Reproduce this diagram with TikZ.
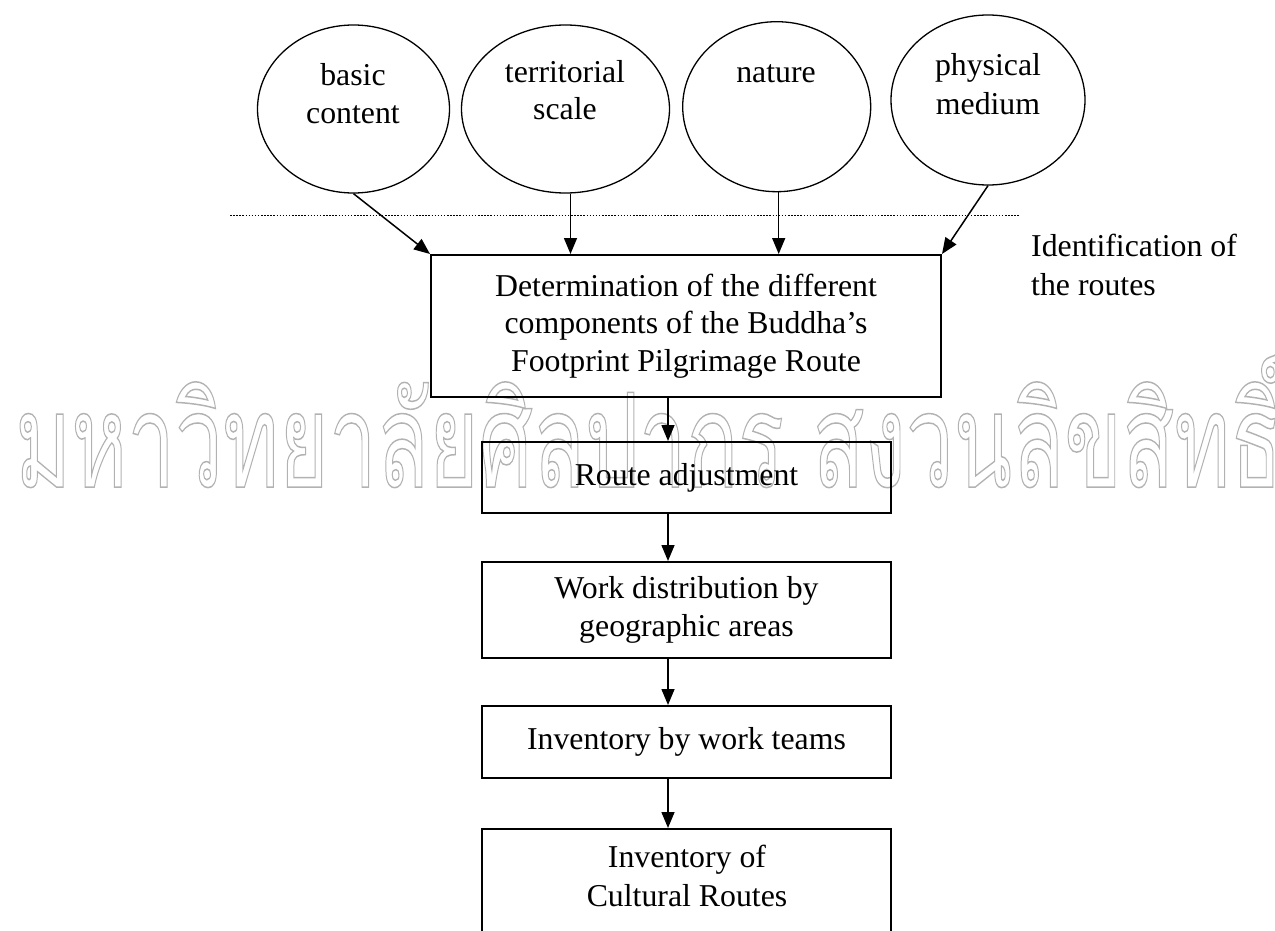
\documentclass[tikz,border=0pt]{standalone}
\usepackage{fontspec}
\setmainfont{Liberation Serif}
\newfontfamily\thaifont[Script=Thai]{Loma}
\usetikzlibrary{shapes.geometric,arrows.meta}
\definecolor{wmgray}{gray}{0.7}
\newbox\wmbox
\begin{document}
\setbox\wmbox\hbox{\thaifont\fontsize{131}{131}\selectfont มหาวิทยาลัยศิลปากร สงวนลิขสิทธิ์}
\pgfmathsetmacro\wmsx{1267/\the\wd\wmbox}
\begin{tikzpicture}[x=1pt,y=-1pt,
  every node/.style={font=\fontsize{31.8}{37.5}\selectfont},
  oval/.style={draw, ellipse, line width=1.3pt, inner sep=0pt},
  stepbox/.style={draw, rectangle, line width=2pt, align=center, inner sep=0pt},
  arr/.style={line width=1.5pt, -{Triangle[length=16pt,width=13pt]}},
  lbl/.style={anchor=base, inner sep=0pt},
  wmark/.style={anchor=base west, inner sep=0pt},
  dotline/.style={line width=1.5pt, dash pattern=on 1.5pt off 1.6pt}]
\useasboundingbox (0,0) rectangle (1275,931);
% watermark (outlined text)
\node[wmark, text=wmgray] (wm) at (15,487)
  {\scalebox{\wmsx}[1]{\color{wmgray}\special{pdf:literal direct 1 Tr 1.5 w}\copy\wmbox\special{pdf:literal direct 0 Tr}}};
% ellipses
\node[oval, minimum width=192pt, minimum height=168pt] (e1) at (353.5,109) {};
\node[oval, minimum width=208pt, minimum height=168pt] (e2) at (565.5,109) {};
\node[oval, minimum width=188pt, minimum height=170pt] (e3) at (776.7,106.7) {};
\node[oval, minimum width=194pt, minimum height=170pt] (e4) at (988,100) {};
\node[lbl] (t1a) at (353,86) {basic};
\node[lbl] (t1b) at (353,124) {content};
\node[lbl] (t2a) at (565,83) {territorial};
\node[lbl] (t2b) at (565,120) {scale};
\node[lbl] (t3a) at (776,83) {nature};
\node[lbl] (t4a) at (988,76) {physical};
\node[lbl] (t4b) at (988,115) {medium};
% dotted line
\coordinate (d1) at (230,215.5);
\coordinate (d2) at (1020,215.5);
\draw[dotline] (d1) -- (d2);
\node[lbl, anchor=base west] (id1) at (1031,256) {Identification of};
\node[lbl, anchor=base west] (id2) at (1031,295) {the routes};
% boxes
\node[stepbox, minimum width=510pt, minimum height=142pt] (b1) at (686,326)
  {Determination of the different\\components of the Buddha’s\\Footprint Pilgrimage Route};
\node[stepbox, minimum width=409pt, minimum height=71pt] (b2) at (686.5,477.5) {Route adjustment};
\node[stepbox, minimum width=409pt, minimum height=96pt] (b3) at (686.5,610) {Work distribution by\\geographic areas};
\node[stepbox, minimum width=409pt, minimum height=72pt] (b4) at (686.5,742) {Inventory by work teams};
\node[stepbox, minimum width=409pt, minimum height=130pt, anchor=north] (b5) at (686.5,828) {};
\node[lbl] (t5a) at (687,867) {Inventory of};
\node[lbl] (t5b) at (687,906) {Cultural Routes};
% arrows
\draw[arr] (e1.south) -- (b1.north west);
\draw[arr] ([xshift=5pt]e2.south) -- ([xshift=5pt]e2.south |- b1.north);
\draw[arr] ([xshift=2pt]e3.south) -- ([xshift=2pt]e3.south |- b1.north);
\draw[arr] (e4.south) -- (b1.north east);
\coordinate (ax) at (668,0);
\draw[arr] (b1.south -| ax) -- (b2.north -| ax);
\draw[arr] (b2.south -| ax) -- (b3.north -| ax);
\draw[arr] (b3.south -| ax) -- (b4.north -| ax);
\draw[arr] (b4.south -| ax) -- (b5.north -| ax);
\end{tikzpicture}
\end{document}
